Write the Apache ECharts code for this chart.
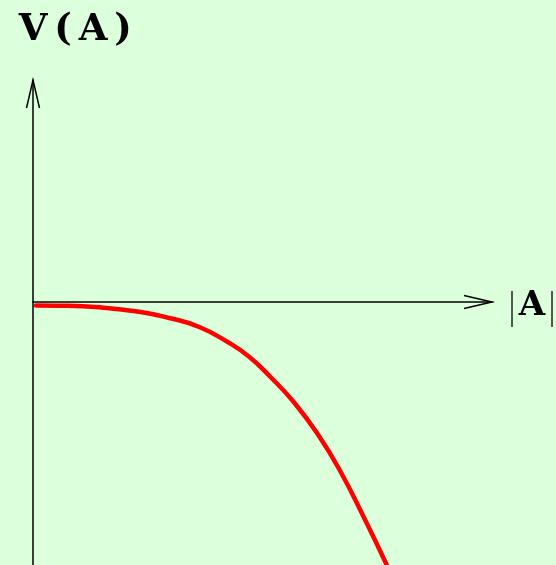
<!DOCTYPE html>
<html>
<head>
<meta charset="utf-8">
<script src="https://cdn.jsdelivr.net/npm/echarts@6/dist/echarts.min.js"></script>
<style>
  html, body { margin: 0; padding: 0; background: #dcffdc; }
  #chart { width: 556px; height: 565px; }
</style>
</head>
<body>
<div id="chart"></div>
<script>
// Potential V as a function of |A| (axis units: 1 unit = one grid step)
const yTitleChars = ['V', '(', 'A', ')'];
const xTitle = 'A';
const ampl = [0.03, 0.26, 0.66, 1.06, 1.36, 1.66, 1.96, 2.16, 2.36, 2.61, 2.86, 3.06, 3.30, 3.53];
const potential = [-0.035, -0.037, -0.053, -0.097, -0.16, -0.25, -0.41, -0.55, -0.74, -1.01, -1.35, -1.68, -2.15, -2.63];
const xMax = 4.58;
const yMin = -2.63;
const yMax = 2.22;

const chart = echarts.init(document.getElementById('chart'), null, { renderer: 'canvas' });

const axisLine = { show: true, onZero: true, lineStyle: { color: '#000', width: 1.5 } };

chart.setOption({
  backgroundColor: '#dcffdc',
  animation: false,
  title: {
    // each glyph in an equal-width cell, typewriter style
    text: yTitleChars.map(c => '{c|' + c + '}').join(''),
    left: 13,
    top: 7,
    textStyle: {
      rich: {
        c: { width: 30, align: 'center', fontFamily: 'DejaVu Serif', fontWeight: 'bold', fontSize: 37, color: '#000' }
      }
    }
  },
  grid: { left: 33, right: 64, top: 80, bottom: 0, containLabel: false },
  xAxis: {
    type: 'value', min: 0, max: xMax,
    axisLine: axisLine,
    axisTick: { show: false }, axisLabel: { show: false }, splitLine: { show: false }
  },
  yAxis: {
    type: 'value', min: yMin, max: yMax,
    axisLine: axisLine,
    axisTick: { show: false }, axisLabel: { show: false }, splitLine: { show: false }
  },
  series: [{
    type: 'line',
    data: ampl.map((a, i) => [a, potential[i]]),
    smooth: 0.5,
    showSymbol: false,
    clip: false,
    lineStyle: { color: '#ff0000', width: 4.5, cap: 'round' }
  }]
});

// Open arrow heads and the |A| label, placed from the axis ends
const xEnd = chart.convertToPixel({ gridIndex: 0 }, [xMax, 0]);
const yEnd = chart.convertToPixel({ gridIndex: 0 }, [0, yMax]);
const head = 28, spread = 6.5;
const stroke = { stroke: '#000', lineWidth: 1.5, fill: null };
const bar = { stroke: '#222', lineWidth: 1.5 };

chart.setOption({
  graphic: [
    { type: 'polyline', shape: { points: [[xEnd[0] - head, xEnd[1] - spread], xEnd, [xEnd[0] - head, xEnd[1] + spread]] }, style: stroke, z: 20 },
    { type: 'polyline', shape: { points: [[yEnd[0] - spread, yEnd[1] + head], yEnd, [yEnd[0] + spread, yEnd[1] + head]] }, style: stroke, z: 20 },
    { type: 'line', shape: { x1: xEnd[0] + 20, y1: xEnd[1] - 11, x2: xEnd[0] + 20, y2: xEnd[1] + 25 }, style: bar, z: 20 },
    { type: 'line', shape: { x1: xEnd[0] + 60, y1: xEnd[1] - 11, x2: xEnd[0] + 60, y2: xEnd[1] + 25 }, style: bar, z: 20 },
    {
      type: 'text', x: xEnd[0] + 40, y: xEnd[1] + 4, z: 20,
      style: { text: xTitle, fontFamily: 'DejaVu Serif', fontWeight: 'bold', fontSize: 34, fill: '#000', align: 'center', verticalAlign: 'middle' }
    }
  ]
});
</script>
</body>
</html>
